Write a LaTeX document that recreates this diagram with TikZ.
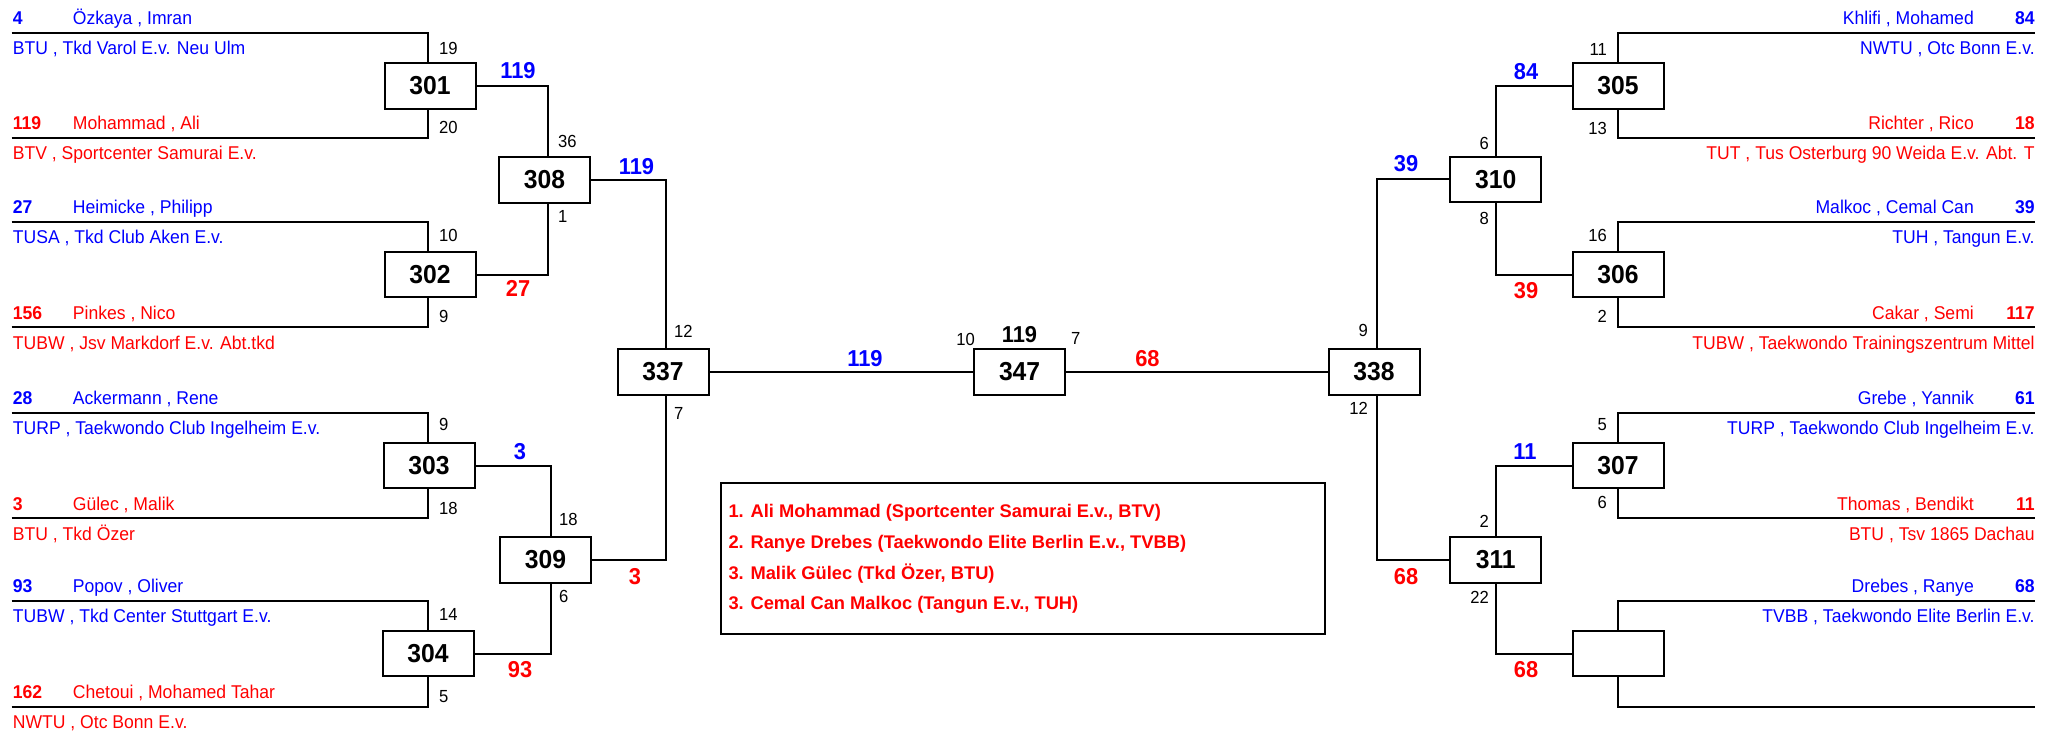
\documentclass[tikz,border=0pt]{standalone}
\usepackage{fontspec}
\setmainfont{Liberation Sans}
\newfontfamily\nar[FakeStretch=0.95]{Liberation Sans}
\definecolor{pblue}{RGB}{0,0,255}
\definecolor{pred}{RGB}{255,0,0}
\tikzset{
  ln/.style={line width=2pt},
  mbox/.style={draw, line width=2pt, fill=white, minimum width=91pt, minimum height=45.4pt, inner sep=0pt, font=\nar\bfseries\fontsize{26}{26}\selectfont},
  nm/.style={inner sep=0pt, font=\nar\fontsize{18.5}{20}\selectfont},
  sd/.style={inner sep=0pt, font=\nar\bfseries\fontsize{18.5}{20}\selectfont},
  sm/.style={inner sep=0pt, font=\nar\fontsize{17.5}{18}\selectfont},
  win/.style={inner sep=0pt, font=\nar\bfseries\fontsize{23}{23}\selectfont},
  leg/.style={inner sep=0pt, anchor=base west, text=pred, font=\bfseries\fontsize{18.3}{20}\selectfont},
}
\begin{document}
\begin{tikzpicture}[x=1pt,y=-1pt]
\useasboundingbox (0,0) rectangle (2054,733);

% ---------- boxes ----------
\node[mbox] (b301) at (430,86) {301};
\node[mbox] (b302) at (430,274.5) {302};
\node[mbox] (b303) at (429,465.7) {303};
\node[mbox] (b304) at (428,653.5) {304};
\node[mbox] (b308) at (544.5,180) {308};
\node[mbox] (b309) at (545.5,560) {309};
\node[mbox] (b337) at (663,372) {337};
\node[mbox] (b347) at (1019.6,372) {347};
\node[mbox] (b338) at (1374,372) {338};
\node[mbox] (b310) at (1495.7,179.5) {310};
\node[mbox] (b311) at (1495.7,560) {311};
\node[mbox] (b305) at (1618,86) {305};
\node[mbox] (b306) at (1618,274.5) {306};
\node[mbox] (b307) at (1618,465.7) {307};
\node[mbox] (b312) at (1618,653.5) {};

% ---------- line ends ----------
\foreach \i/\y in {1/33.3,2/138.3,3/221.7,4/327.3,5/412.7,6/518.3,7/601,8/706.7}{
  \coordinate (la\i) at (11.7,\y);
  \coordinate (ra\i) at (2034.8,\y);
}

% ---------- first-round brackets ----------
\draw[ln] (la1) -| ([xshift=-2.5pt]b301.north);
\draw[ln] (la2) -| ([xshift=-2.5pt]b301.south);
\draw[ln] (la3) -| ([xshift=-2.5pt]b302.north);
\draw[ln] (la4) -| ([xshift=-2.5pt]b302.south);
\draw[ln] (la5) -| ([xshift=-1.5pt]b303.north);
\draw[ln] (la6) -| ([xshift=-1.5pt]b303.south);
\draw[ln] (la7) -| ([xshift=-0.5pt]b304.north);
\draw[ln] (la8) -| ([xshift=-0.5pt]b304.south);
\draw[ln] (ra1) -| (b305.north);
\draw[ln] (ra2) -| (b305.south);
\draw[ln] (ra3) -| (b306.north);
\draw[ln] (ra4) -| (b306.south);
\draw[ln] (ra5) -| (b307.north);
\draw[ln] (ra6) -| (b307.south);
\draw[ln] (ra7) -| (b312.north);
\draw[ln] (ra8) -| (b312.south);

% ---------- later rounds ----------
\draw[ln] (b301.east) -| ([xshift=3.5pt]b308.north);
\draw[ln] (b302.east) -| ([xshift=3.5pt]b308.south);
\draw[ln] (b303.east) -| ([xshift=5pt]b309.north);
\draw[ln] (b304.east) -| ([xshift=5pt]b309.south);
\draw[ln] (b308.east) -| ([xshift=2.5pt]b337.north);
\draw[ln] (b309.east) -| ([xshift=2.5pt]b337.south);
\draw[ln] (b337.east) -- (b347.west);
\draw[ln] (b347.east) -- (b338.west);
\draw[ln] (b305.west) -| (b310.north);
\draw[ln] (b306.west) -| (b310.south);
\draw[ln] (b307.west) -| (b311.north);
\draw[ln] (b312.west) -| (b311.south);
\draw[ln] (b310.west) -| ([xshift=2.5pt]b338.north);
\draw[ln] (b311.west) -| ([xshift=2.5pt]b338.south);

% ---------- left competitors ----------
\foreach \i/\y/\s/\n/\c/\col in {
  1/33.3/4/{Özkaya , Imran}/{BTU , Tkd Varol E.v. Neu Ulm}/pblue,
  2/138.3/119/{Mohammad , Ali}/{BTV , Sportcenter Samurai E.v.}/pred,
  3/221.7/27/{Heimicke , Philipp}/{TUSA , Tkd Club Aken E.v.}/pblue,
  4/327.3/156/{Pinkes , Nico}/{TUBW , Jsv Markdorf E.v. Abt.tkd}/pred,
  5/412.7/28/{Ackermann , Rene}/{TURP , Taekwondo Club Ingelheim E.v.}/pblue,
  6/518.3/3/{Gülec , Malik}/{BTU , Tkd Özer}/pred,
  7/601/93/{Popov , Oliver}/{TUBW , Tkd Center Stuttgart E.v.}/pblue,
  8/706.7/162/{Chetoui , Mohamed Tahar}/{NWTU , Otc Bonn E.v.}/pred}{
  \node[sd, text=\col, anchor=base west] (ls\i) at (12.7,\y-8.3) {\s};
  \node[nm, text=\col, anchor=base west] (ln\i) at (72.7,\y-8.3) {\n};
  \node[nm, text=\col, anchor=base west] (lc\i) at (12.7,\y+21.7) {\c};
}

% ---------- right competitors ----------
\foreach \i/\y/\s/\n/\c/\col in {
  1/33.3/84/{Khlifi , Mohamed}/{NWTU , Otc Bonn E.v.}/pblue,
  2/138.3/18/{Richter , Rico}/{TUT , Tus Osterburg 90 Weida E.v. Abt. T}/pred,
  3/221.7/39/{Malkoc , Cemal Can}/{TUH , Tangun E.v.}/pblue,
  4/327.3/117/{Cakar , Semi}/{TUBW , Taekwondo Trainingszentrum Mittel}/pred,
  5/412.7/61/{Grebe , Yannik}/{TURP , Taekwondo Club Ingelheim E.v.}/pblue,
  6/518.3/11/{Thomas , Bendikt}/{BTU , Tsv 1865 Dachau}/pred,
  7/601/68/{Drebes , Ranye}/{TVBB , Taekwondo Elite Berlin E.v.}/pblue}{
  \node[sd, text=\col, anchor=base east] (rs\i) at (2034.8,\y-8.3) {\s};
  \node[nm, text=\col, anchor=base east] (rn\i) at (1974,\y-8.3) {\n};
  \node[nm, text=\col, anchor=base east] (rc\i) at (2034.8,\y+21.7) {\c};
}

% ---------- small numbers, left ----------
\foreach \t/\x/\y [count=\k] in {19/439/48.3,20/439/127.7,10/439/235,9/439/316,9/439/424,18/439/508.3,14/439/614.3,5/439/696.7,
  36/558/141.7,1/558/216.7,18/559/519,6/559/596,12/674/331,7/674/413.3,7/1071/338.3}{
  \node[sm, anchor=west] (sl\k) at (\x,\y) {\t};
}
% ---------- small numbers, right ----------
\foreach \t/\x/\y [count=\k] in {11/1607/49.3,13/1607/128.3,16/1607/235,2/1607/316.7,5/1607/424.3,6/1607/502.7,
  6/1489/143.3,8/1489/218.3,2/1489/521.7,22/1489/597.7,9/1368/330.7,12/1368/408.3,10/975/339}{
  \node[sm, anchor=east] (sr\k) at (\x,\y) {\t};
}

% ---------- winners ----------
\node[win, text=pblue] (w1) at (518,70.8) {119};
\node[win, text=pred]  (w2) at (518,288.3) {27};
\node[win, text=pblue] (w3) at (520,451.7) {3};
\node[win, text=pred]  (w4) at (520,669.3) {93};
\node[win, text=pblue] (w5) at (636.5,166.7) {119};
\node[win, text=pred]  (w6) at (635,576.7) {3};
\node[win, text=pblue] (w7) at (865,358.3) {119};
\node[win, text=pred]  (w8) at (1147.4,358.3) {68};
\node[win]             (w9) at (1019.5,334.5) {119};
\node[win, text=pblue] (w10) at (1406,164) {39};
\node[win, text=pred]  (w11) at (1406,576.7) {68};
\node[win, text=pblue] (w12) at (1526,71.7) {84};
\node[win, text=pred]  (w13) at (1526,291) {39};
\node[win, text=pblue] (w14) at (1525,451.7) {11};
\node[win, text=pred]  (w15) at (1526,669.3) {68};

% ---------- legend ----------
\node[draw, line width=2pt, anchor=north west, minimum width=604pt, minimum height=151pt, inner sep=0pt] (legend) at (720,481.5) {};
\node[leg] (r1) at (728.3,517.8) {1. Ali Mohammad (Sportcenter Samurai E.v., BTV)};
\node[leg] (r2) at (728.3,548.5) {2. Ranye Drebes (Taekwondo Elite Berlin E.v., TVBB)};
\node[leg] (r3) at (728.3,579.2) {3. Malik Gülec (Tkd Özer, BTU)};
\node[leg] (r4) at (728.3,609.9) {3. Cemal Can Malkoc (Tangun E.v., TUH)};
\end{tikzpicture}
\end{document}
